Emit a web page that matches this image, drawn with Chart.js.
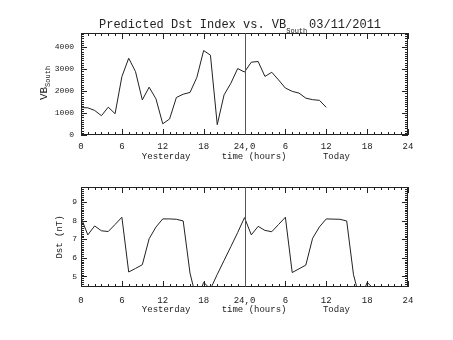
<!DOCTYPE html>
<html>
<head>
<meta charset="utf-8">
<script src="https://cdn.jsdelivr.net/npm/chart.js@4/dist/chart.umd.min.js"></script>
<style>
  html, body { margin: 0; padding: 0; background: #fff; }
  #wrap { position: relative; width: 453px; height: 340px; }
  canvas { position: absolute; left: 0; }
</style>
</head>
<body>
<div id="wrap">
  <canvas id="vbChart" width="453" height="170" style="top:0;width:453px;height:170px"></canvas>
  <canvas id="dstChart" width="453" height="170" style="top:170px;width:453px;height:170px"></canvas>
</div>
<script>
// ------------------------------
// data
// ------------------------------
const xTicks = [0, 6, 12, 18, 24, 30, 36, 42, 48];
const xTickLabels = ["0", "6", "12", "18", "24,0", "6", "12", "18", "24"];
const dayLabels = ["Yesterday", "time (hours)", "Today"];

const vbTicks = [0, 1000, 2000, 3000, 4000];
const dstTicks = [5, 6, 7, 8, 9];

const vbHours = [0, 1, 2, 3, 4, 5, 6, 7, 8, 9, 10, 11, 12, 13, 14, 15, 16, 17, 18,
  19, 20, 21, 22, 23, 24, 25, 26, 27, 28, 29, 30, 31, 32, 33, 34, 35, 36];
const vbSouth = [1250, 1240, 1120, 880, 1270, 970, 2660, 3500, 2890, 1600, 2180, 1650,
  510, 730, 1710, 1860, 1940, 2620, 3850, 3640, 470, 1830, 2360, 3030, 2870, 3320,
  3350, 2670, 2860, 2510, 2140, 1990, 1910, 1680, 1610, 1580, 1260];

const dstHours = [0, 1, 2, 3, 4, 5, 6, 7, 8, 9, 10, 11, 12, 13, 14, 15, 16, 17, 18,
  19, 20, 21, 22, 23, 24, 25, 26, 27, 28, 29, 30, 31, 32, 33, 34, 35, 36, 37, 38,
  39, 40, 41, 42, 43];
const dstValues = [8.17, 7.24, 7.72, 7.46, 7.42, 7.8, 8.19, 5.24, 5.43, 5.63, 7.03, 7.66,
  8.1, 8.1, 8.08, 7.99, 5.18, 3.68, 4.68, 4.32, 5.11, 5.86, 6.61, 7.37, 8.17, 7.24,
  7.7, 7.48, 7.41, 7.8, 8.19, 5.21, 5.41, 5.61, 7.06, 7.67, 8.1, 8.09, 8.08, 7.99,
  5.09, 3.7, 4.68, 4.32];

const INK = "#222";
const FONT = "'Liberation Mono', 'DejaVu Sans Mono', monospace";

// ------------------------------
// helpers
// ------------------------------
function drawRich(ctx, segs, x, y) {
  // segs: [{ text, size, dy }]
  let cx = x;
  for (const s of segs) {
    ctx.font = `${s.size}px ${FONT}`;
    ctx.fillText(s.text, cx, y + (s.dy || 0));
    cx += ctx.measureText(s.text).width;
  }
}

function isMultiple(v, step) {
  const r = v / step;
  return Math.abs(r - Math.round(r)) < 1e-6;
}

// IDL-style frame: box, inward ticks on all four sides, marker line, labels
const idlFrame = {
  id: "idlFrame",
  afterDraw(chart, args, o) {
    const ctx = chart.ctx;
    const { left, right, top, bottom } = chart.chartArea;
    const xs = chart.scales.x;
    const ys = chart.scales.y;

    ctx.save();
    ctx.strokeStyle = INK;
    ctx.lineWidth = 1;

    // box
    ctx.strokeRect(left + 0.5, top + 0.5, right - left - 1, bottom - top - 1);

    // x ticks
    ctx.beginPath();
    for (let v = xs.min; v <= xs.max + 1e-9; v += o.xMinor) {
      const px = Math.round(xs.getPixelForValue(v)) + 0.5;
      const len = isMultiple(v, o.xMajor) ? o.majorLen : o.minorLen;
      ctx.moveTo(px, bottom); ctx.lineTo(px, bottom - len);
      ctx.moveTo(px, top); ctx.lineTo(px, top + len);
    }
    // y ticks
    const start = Math.ceil(ys.min / o.yMinor) * o.yMinor;
    for (let v = start; v <= ys.max + 1e-9; v += o.yMinor) {
      const py = Math.round(ys.getPixelForValue(v)) + 0.5;
      const len = isMultiple(v, o.yMajor) ? o.majorLen : o.minorLen;
      ctx.moveTo(left, py); ctx.lineTo(left + len, py);
      ctx.moveTo(right, py); ctx.lineTo(right - len, py);
    }
    ctx.stroke();

    // day boundary marker
    ctx.beginPath();
    const mx = Math.round(xs.getPixelForValue(o.marker)) + 0.5;
    ctx.moveTo(mx, top); ctx.lineTo(mx, bottom);
    ctx.strokeStyle = "#555";
    ctx.stroke();

    // labels under the x axis
    ctx.fillStyle = INK;
    ctx.textAlign = "center";
    ctx.textBaseline = "alphabetic";
    ctx.font = `9px ${FONT}`;
    dayLabels.forEach((t, i) => {
      ctx.fillText(t, xs.getPixelForValue(o.dayAt[i]), bottom + o.dayDy);
    });

    // rotated y title
    ctx.textAlign = "left";
    ctx.translate(o.yTitleX, o.yTitleY);
    ctx.rotate(-Math.PI / 2);
    let w = 0;
    for (const s of o.yTitle) {
      ctx.font = `${s.size}px ${FONT}`;
      w += ctx.measureText(s.text).width;
    }
    drawRich(ctx, o.yTitle, -w / 2, 0);
    ctx.restore();

    // main title
    if (o.title) {
      ctx.save();
      ctx.fillStyle = INK;
      ctx.textAlign = "left";
      ctx.textBaseline = "alphabetic";
      drawRich(ctx, o.title, o.titleX, o.titleY);
      ctx.restore();
    }
  },
};

// ------------------------------
// chart factory
// ------------------------------
function makeChart(canvas, cfg) {
  return new Chart(canvas, {
    type: "line",
    data: {
      datasets: [{
        data: cfg.xs.map((x, i) => ({ x, y: cfg.ys[i] })),
        borderColor: INK,
        borderWidth: 1,
        pointRadius: 0,
        tension: 0,
        fill: false,
      }],
    },
    options: {
      responsive: false,
      animation: false,
      events: [],
      layout: { padding: cfg.padding },
      plugins: {
        legend: { display: false },
        tooltip: { enabled: false },
        idlFrame: cfg.frame,
      },
      scales: {
        x: {
          type: "linear",
          min: 0,
          max: 48,
          grid: { display: false, drawTicks: false },
          border: { display: false },
          afterFit(s) { s.height = cfg.xHeight; },
          afterBuildTicks(s) { s.ticks = xTicks.map((v) => ({ value: v })); },
          ticks: {
            padding: cfg.xPad,
            color: INK,
            font: { family: FONT, size: 9 },
            maxRotation: 0,
            autoSkip: false,
            callback: (v) => xTickLabels[xTicks.indexOf(v)],
          },
        },
        y: {
          type: "linear",
          min: cfg.yMin,
          max: cfg.yMax,
          grid: { display: false, drawTicks: false },
          border: { display: false },
          afterFit(s) { s.width = 81; },
          afterBuildTicks(s) { s.ticks = cfg.yTicks.map((v) => ({ value: v })); },
          ticks: {
            padding: cfg.yPad,
            color: INK,
            font: { family: FONT, size: 8 },
            autoSkip: false,
            callback: (v) => String(v),
          },
        },
      },
    },
    plugins: [idlFrame],
  });
}

// ------------------------------
// create
// ------------------------------
makeChart(document.getElementById("vbChart"), {
  xs: vbHours,
  ys: vbSouth,
  yMin: 0,
  yMax: 4650,
  yTicks: vbTicks,
  padding: { top: 33, right: 45, left: 0, bottom: 0 },
  xHeight: 35,
  xPad: 6,
  yPad: 7,
  frame: {
    xMinor: 1, xMajor: 6, yMinor: 100, yMajor: 1000,
    majorLen: 6, minorLen: 3,
    marker: 24,
    dayAt: [12.5, 25.4, 37.5],
    dayDy: 24,
    yTitleX: 47, yTitleY: 83,
    yTitle: [{ text: "VB", size: 11 }, { text: "South", size: 7, dy: 3 }],
    titleX: 99, titleY: 28,
    title: [
      { text: "Predicted Dst Index vs. VB", size: 12 },
      { text: "South", size: 7, dy: 5 },
      { text: " ", size: 3 },
      { text: "03/11/2011", size: 12 },
    ],
  },
});

makeChart(document.getElementById("dstChart"), {
  xs: dstHours,
  ys: dstValues,
  yMin: 4.43,
  yMax: 9.82,
  yTicks: dstTicks,
  padding: { top: 17, right: 45, left: 0, bottom: 0 },
  xHeight: 53,
  xPad: 8,
  yPad: 4,
  frame: {
    xMinor: 1, xMajor: 6, yMinor: 0.1, yMajor: 1,
    majorLen: 6, minorLen: 3,
    marker: 24,
    dayAt: [12.5, 25.4, 37.5],
    dayDy: 25,
    yTitleX: 62, yTitleY: 237 - 170,
    yTitle: [{ text: "Dst (nT)", size: 9 }],
  },
});
</script>
</body>
</html>
